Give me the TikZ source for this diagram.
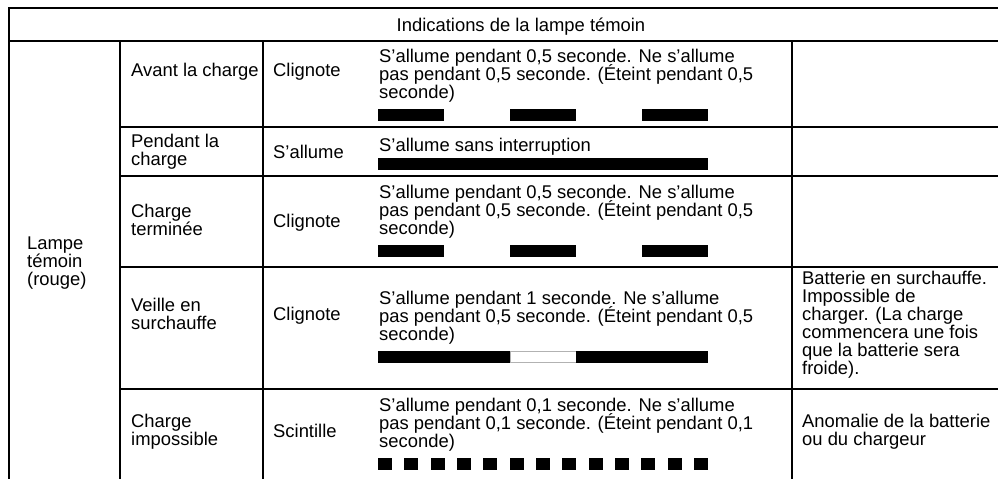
\documentclass[tikz,border=0pt]{standalone}
\usepackage{fontspec}
\setmainfont{Liberation Sans}
\begin{document}
\begin{tikzpicture}[x=1pt,y=-1pt,
  outer/.style={line width=2.8pt},
  grid/.style={line width=2.2pt},
  txt/.style={anchor=base west,inner sep=0pt,font=\fontsize{18.4}{18}\selectfont},
  head/.style={anchor=base,inner sep=0pt,font=\fontsize{18.4}{18}\selectfont},
  onbar/.style={fill=black},
  offbar/.style={fill=white,draw=black!30,line width=0.6pt}]
\useasboundingbox[fill=white] (0,0) rectangle (998,479);
% grid
\draw[outer] (998,8) -- (9,8) -- (9,479);
\draw[grid] (9,41) -- (998,41);
\draw[grid] (120,41) -- (120,479);
\draw[grid] (263,41) -- (263,479);
\draw[grid] (792,41) -- (792,479);
\foreach \yy in {127,176,267,389} \draw[grid] (120,\yy) -- (998,\yy);
% header
\node[head] (hd) at (521,31) {Indications de la lampe témoin};
% column 1
\node[txt] (c1a) at (27,249) {Lampe};
\node[txt] (c1b) at (27,267) {témoin};
\node[txt] (c1c) at (27,285) {(rouge)};
% column 2
\node[txt] (r1s) at (131,76.5) {Avant la charge};
\node[txt] (r2sa) at (131,147.5) {Pendant la};
\node[txt] (r2sb) at (131,165.5) {charge};
\node[txt] (r3sa) at (131,217.5) {Charge};
\node[txt] (r3sb) at (131,235.5) {terminée};
\node[txt] (r4sa) at (131,311.5) {Veille en};
\node[txt] (r4sb) at (131,329.5) {surchauffe};
\node[txt] (r5sa) at (131,427.5) {Charge};
\node[txt] (r5sb) at (131,445.5) {impossible};
% column 3
\node[txt] (r1m) at (273,76.5) {Clignote};
\node[txt] (r2m) at (273,158) {S’allume};
\node[txt] (r3m) at (273,227) {Clignote};
\node[txt] (r4m) at (273,320.5) {Clignote};
\node[txt] (r5m) at (273,437) {Scintille};
% column 4 : row 1
\node[txt] (r1da) at (379,62.5) {S’allume pendant 0,5 seconde. Ne s’allume};
\node[txt] (r1db) at (379,80.5) {pas pendant 0,5 seconde. (Éteint pendant 0,5};
\node[txt] (r1dc) at (379,98.5) {seconde)};
\foreach \k in {0,1,2} \fill[onbar] ({378+132*\k},109) rectangle ++(66,12);
% row 2
\node[txt] (r2d) at (379,151) {S’allume sans interruption};
\fill[onbar] (378,158) rectangle (708,170);
% row 3
\node[txt] (r3da) at (379,198.5) {S’allume pendant 0,5 seconde. Ne s’allume};
\node[txt] (r3db) at (379,216.5) {pas pendant 0,5 seconde. (Éteint pendant 0,5};
\node[txt] (r3dc) at (379,234.5) {seconde)};
\foreach \k in {0,1,2} \fill[onbar] ({378+132*\k},245) rectangle ++(66,12);
% row 4
\node[txt] (r4da) at (379,304.5) {S’allume pendant 1 seconde. Ne s’allume};
\node[txt] (r4db) at (379,322.5) {pas pendant 0,5 seconde. (Éteint pendant 0,5};
\node[txt] (r4dc) at (379,340.5) {seconde)};
\fill[onbar] (378,351) rectangle (510,363);
\draw[offbar] (510,351.5) rectangle (576,362.5);
\fill[onbar] (576,351) rectangle (708,363);
% row 5
\node[txt] (r5da) at (379,411.5) {S’allume pendant 0,1 seconde. Ne s’allume};
\node[txt] (r5db) at (379,429.5) {pas pendant 0,1 seconde. (Éteint pendant 0,1};
\node[txt] (r5dc) at (379,447.5) {seconde)};
\foreach \k in {0,...,12} \fill[onbar] ({378+26.33*\k},458) rectangle ++(14,12);
% column 5
\node[txt] (r4ra) at (802,284.5) {Batterie en surchauffe.};
\node[txt] (r4rb) at (802,302.5) {Impossible de};
\node[txt] (r4rc) at (802,320.5) {charger. (La charge};
\node[txt] (r4rd) at (802,338.5) {commencera une fois};
\node[txt] (r4re) at (802,356.5) {que la batterie sera};
\node[txt] (r4rf) at (802,374.5) {froide).};
\node[txt] (r5ra) at (802,427.5) {Anomalie de la batterie};
\node[txt] (r5rb) at (802,445.5) {ou du chargeur};
\end{tikzpicture}
\end{document}
